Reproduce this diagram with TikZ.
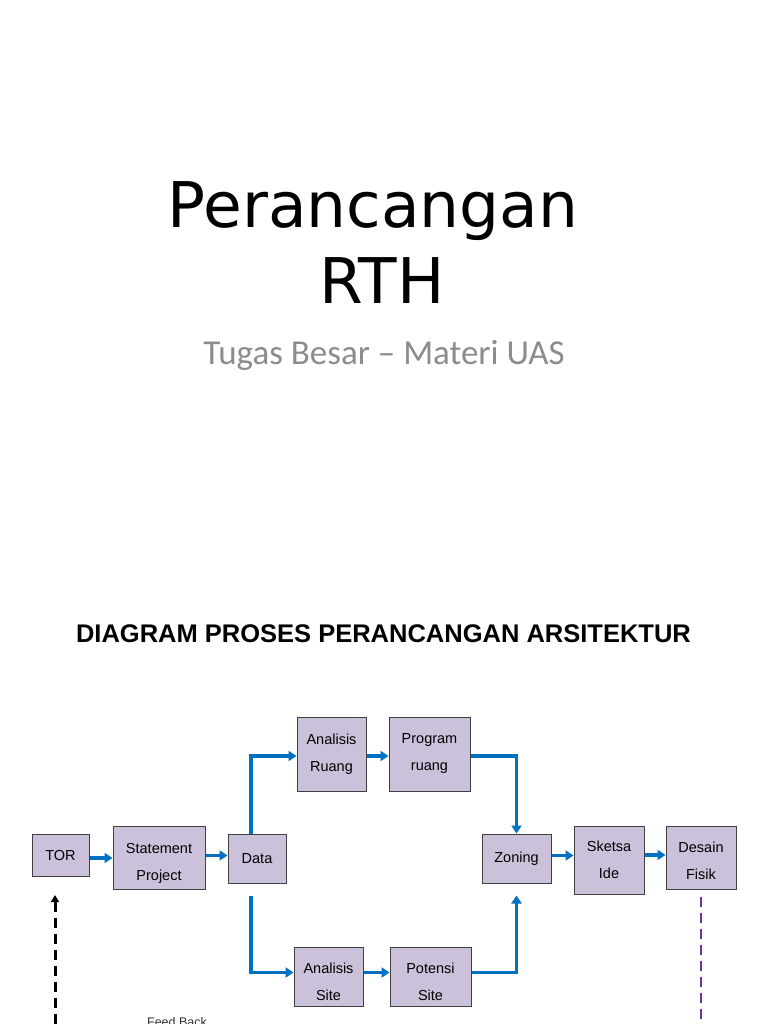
\documentclass[tikz,border=0pt]{standalone}
\usepackage{fontspec}
\setmainfont{Liberation Sans}
\newfontfamily\titlefont{DejaVu Sans}
\newfontfamily\subfont{Carlito}
\usepackage{xcolor}
\usetikzlibrary{positioning,arrows.meta,calc}
\definecolor{boxfill}{HTML}{CCC1DA}
\definecolor{boxline}{HTML}{404040}
\definecolor{flowblue}{HTML}{0070C0}
\definecolor{fbpurple}{HTML}{7030A0}
\definecolor{subgray}{HTML}{8C8C8C}
\tikzset{
  procbox/.style={draw=boxline,line width=1pt,fill=boxfill,align=center,inner sep=0pt,
    font=\fontsize{14.5}{27}\selectfont},
  lowtext/.style={text height=#1},
  flow/.style={draw=flowblue,line width=3.2pt,-{Triangle[length=8pt,width=10pt]}}
}
\begin{document}
\begin{tikzpicture}[x=1pt,y=-1pt,>=Stealth]
\useasboundingbox (0,0) rectangle (768,1024);
\fill[white] (0,0) rectangle (768,1024);
% titles
\node[anchor=base,inner sep=0pt] (title1) at (373,227) {\titlefont\fontsize{63}{76}\selectfont Perancangan};
\node[anchor=base,inner sep=0pt] (title2) at (382,303) {\titlefont\fontsize{63}{76}\selectfont RTH};
\node[anchor=base,inner sep=0pt,text=subgray] (subtitle) at (384,364) {\subfont\fontsize{35}{40}\selectfont Tugas Besar – Materi UAS};
\node[anchor=base,inner sep=0pt] (heading) at (383.5,642) {\fontsize{25.5}{30}\selectfont\bfseries DIAGRAM PROSES PERANCANGAN ARSITEKTUR};
% process boxes
\node[procbox,minimum width=57pt,minimum height=42pt] (tor) at (60.5,855) {TOR};
\node[procbox,lowtext=49pt,minimum width=92pt,minimum height=63pt] (stmt) at (159,857.5) {Statement\\Project};
\node[procbox,minimum width=58pt,minimum height=49pt] (data) at (257,858.5) {Data};
\node[procbox,minimum width=69pt,minimum height=74pt] (ruang) at (331.5,754) {Analisis\\Ruang};
\node[procbox,minimum width=81pt,minimum height=74pt] (prog) at (429.5,754) {Program\\ruang};
\node[procbox,lowtext=48pt,minimum width=69pt,minimum height=59pt] (site) at (328.5,976.5) {Analisis\\Site};
\node[procbox,lowtext=48pt,minimum width=81pt,minimum height=59pt] (potensi) at (430.5,976.5) {Potensi\\Site};
\node[procbox,minimum width=69pt,minimum height=49pt] (zoning) at (516.5,858.5) {Zoning};
\node[procbox,minimum width=70pt,minimum height=68pt] (sketsa) at (609,860) {Sketsa\\Ide};
\node[procbox,lowtext=43.5pt,minimum width=70pt,minimum height=63pt] (desain) at (701,857.5) {Desain\\Fisik};
% flow connectors
\draw[flow] ($(tor.east)+(0,3)$) -- ($(tor.east -| stmt.west)+(0,3)$);
\draw[flow] ($(stmt.east)+(0,-2)$) -- ($(stmt.east -| data.west)+(0,-2)$);
\draw[flow] ($(data.north)+(-6,0)$) |- ($(ruang.west)+(0,2)$);
\draw[flow] ($(data.south)+(-6,12)$) |- ($(site.west)+(0,-4)$);
\draw[flow] ($(ruang.east)+(0,2)$) -- ($(prog.west)+(0,2)$);
\draw[flow] ($(prog.east)+(0,2)$) -| (zoning.north);
\draw[flow] ($(site.east)+(0,-4)$) -- ($(potensi.west)+(0,-4)$);
\draw[flow] ($(potensi.east)+(0,-4)$) -| ($(zoning.south)+(0,12)$);
\draw[flow] ($(zoning.east)+(0,-3)$) -- ($(zoning.east -| sketsa.west)+(0,-3)$);
\draw[flow] ($(sketsa.east)+(0,-5)$) -- ($(sketsa.east -| desain.west)+(0,-5)$);
% feed back lines
\coordinate (bottom) at (0,1024);
\draw[fbpurple,line width=2pt,dash pattern=on 10pt off 6pt] ($(desain.south)+(0,7)$) -- (desain.south |- bottom);
\coordinate (fbfoot) at (55,1024);
\coordinate (fbhead) at (55,895);
\draw[black,line width=3pt,dash pattern=on 10pt off 6pt,-{Triangle[length=7pt,width=8pt]}] (fbfoot) -- (fbhead);
\node[anchor=north,inner sep=0pt,font=\fontsize{12.5}{15}\selectfont,text=black!80] (fblabel) at (177,1017) {Feed Back};
\end{tikzpicture}
\end{document}
